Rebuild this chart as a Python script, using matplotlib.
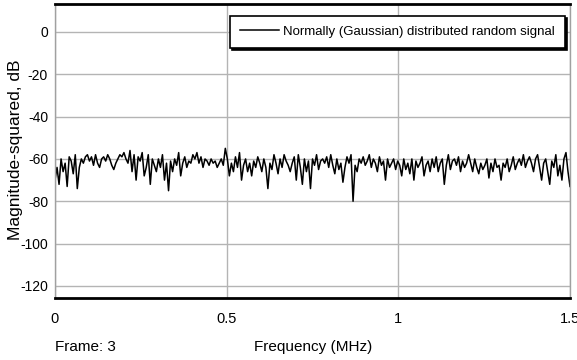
import matplotlib
matplotlib.use("Agg")
import matplotlib.pyplot as plt
import numpy as np

# magnitude-squared spectrum (dB)
mag_db = [
    -70, -64, -72, -60, -66, -62, -73, -59, -61, -67, -58, -74, -64, -60, -62, -59, -58,
    -61, -59, -63, -58, -62, -64, -60, -59, -61, -58, -60, -63, -65, -62, -60, -58, -59,
    -57, -60, -62, -56, -66, -58, -70, -59, -61, -57, -68, -64, -58, -72, -60, -63, -66,
    -60, -64, -58, -70, -62, -75, -61, -66, -60, -63, -57, -68, -62, -59, -64, -61, -62,
    -58, -60, -57, -62, -59, -64, -60, -61, -63, -60, -62, -61, -64, -62, -60, -63, -55,
    -60, -68, -62, -66, -59, -64, -57, -70, -63, -60, -66, -62, -68, -61, -64, -59, -62,
    -66, -60, -64, -74, -62, -65, -58, -62, -67, -60, -64, -58, -61, -63, -66, -62, -59,
    -70, -58, -64, -72, -60, -66, -61, -74, -60, -63, -58, -65, -61, -60, -62, -59, -64,
    -58, -63, -67, -60, -65, -62, -71, -64, -59, -62, -58, -80, -63, -66, -60, -62, -59,
    -63, -61, -58, -64, -60, -62, -66, -59, -63, -61, -70, -60, -64, -62, -60, -65, -61,
    -63, -68, -60, -65, -62, -67, -60, -70, -61, -64, -62, -59, -68, -63, -61, -66, -60,
    -64, -59, -66, -62, -60, -72, -63, -58, -65, -61, -60, -63, -59, -66, -61, -64, -62,
    -58, -62, -66, -60, -64, -67, -62, -65, -63, -60, -69, -62, -66, -60, -64, -63, -70,
    -62, -64, -60, -66, -63, -59, -65, -62, -60, -63, -58, -64, -61, -59, -62, -66, -60,
    -58, -64, -70, -62, -60, -66, -72, -61, -64, -58, -68, -63, -70, -60, -57, -66, -73,
]
freq_mhz = np.linspace(0, 1.5, len(mag_db))

y_ticks = [0, -20, -40, -60, -80, -100, -120]
x_ticks = [0, 0.5, 1, 1.5]
x_tick_labels = ["0", "0.5", "1", "1.5"]

sans = ["Liberation Sans", "DejaVu Sans"]

fig = plt.figure(figsize=(5.77, 3.6), dpi=100)
ax = fig.add_axes([0.0953, 0.1722, 0.8926, 0.8167])

ax.plot(freq_mhz, mag_db, color="black", lw=1.1,
        label="Normally (Gaussian) distributed random signal")

ax.set_xlim(0, 1.5)
ax.set_ylim(-125.7, 13.2)
ax.set_xticks(x_ticks)
ax.set_xticklabels(x_tick_labels, family=sans, fontsize=10.5)
ax.set_yticks(y_ticks)
ax.set_yticklabels([str(t) for t in y_ticks], family=sans, fontsize=10)
ax.tick_params(axis="x", length=0, pad=10)
ax.tick_params(axis="y", length=0, pad=5)
ax.grid(True, color="#b4b4b4", lw=1.0)

for side in ["left", "right"]:
    ax.spines[side].set_color("#a0a0a0")
    ax.spines[side].set_linewidth(1.0)
for side in ["top", "bottom"]:
    ax.spines[side].set_color("black")
    ax.spines[side].set_linewidth(2.0)

fig.text(0.026, 0.583, "Magnitude-squared, dB", family=sans, fontsize=12.5,
         rotation=90, ha="center", va="center")
fig.text(0.543, 0.035, "Frequency (MHz)", family=sans, fontsize=11,
         ha="center", va="center")
fig.text(0.095, 0.035, "Frame: 3", family=sans, fontsize=11,
         ha="left", va="center")

leg = ax.legend(loc="upper right", prop={"family": sans, "size": 9.5},
                fancybox=False, framealpha=1, edgecolor="black",
                borderpad=0.75, handlelength=3.0, handletextpad=0.3,
                borderaxespad=0.0, bbox_to_anchor=(0.99, 0.96),
                shadow={"color": "black", "alpha": 1.0, "ox": 1.5, "oy": -1.5})
leg.get_frame().set_linewidth(1.2)

fig.savefig("out.png", dpi=100)
